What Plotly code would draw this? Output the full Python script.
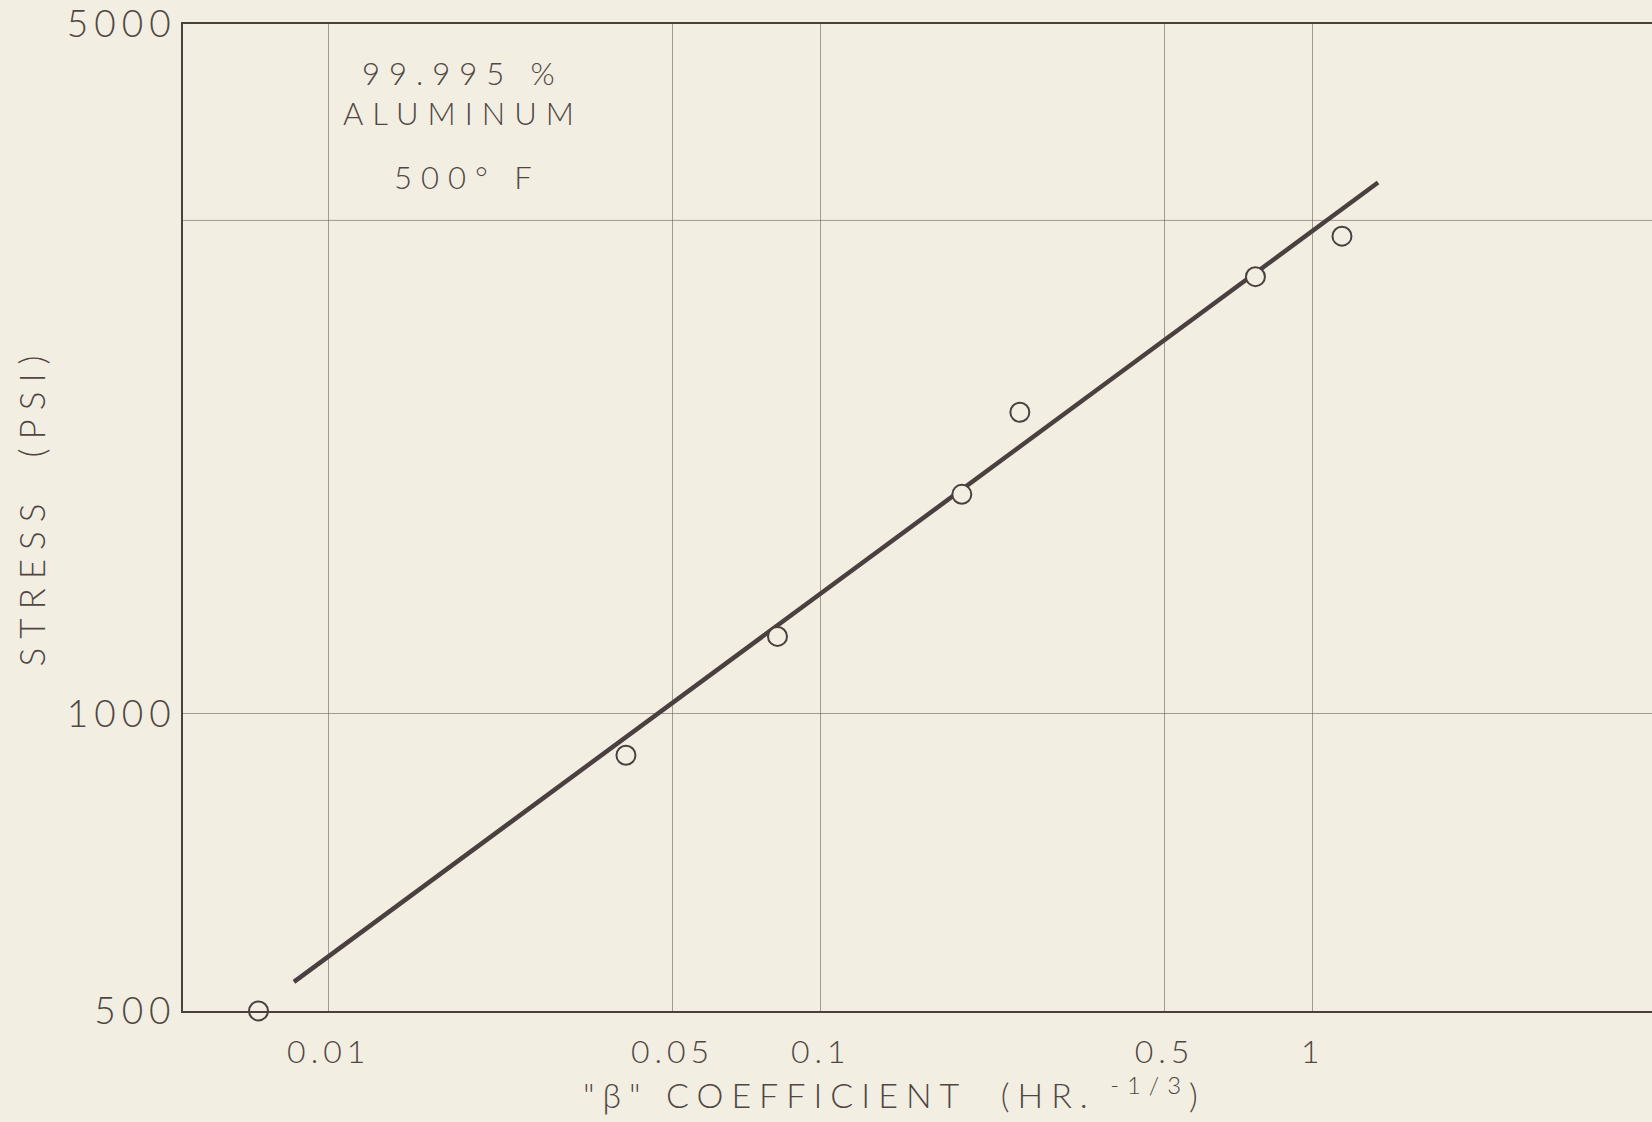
import plotly.graph_objects as go

# Measured creep points: "beta" coefficient vs. stress
beta_coef = [0.0072, 0.0402, 0.0817, 0.1936, 0.254, 0.765, 1.147]
stress_psi = [500, 908, 1198, 1669, 2021, 2773, 3048]

# End points of the fitted straight line (log-log)
fit_beta = [0.0085, 1.358]
fit_stress = [535, 3454]

# Axis ticks
x_tick_vals = [0.01, 0.05, 0.1, 0.5, 1]
x_tick_text = ["0.01", "0.05", "0.1", "0.5", "1"]
y_tick_vals = [500, 1000, 5000]
y_tick_text = ["500", "1000", "5000"]
y_extra_grid = [3162]

BG = "#F2EEE2"
INK = "#504744"
LINE = "#4a4040"
GRID = "rgba(95,85,80,0.55)"
FONT = "Lato"

fig = go.Figure()

# extra horizontal rule of the graph paper
for yv in y_extra_grid:
    fig.add_shape(type="line", xref="paper", x0=0, x1=1, yref="y", y0=yv, y1=yv,
                  line=dict(color=GRID, width=1), layer="below")

fig.add_trace(go.Scatter(
    x=fit_beta, y=fit_stress, mode="lines",
    line=dict(color=LINE, width=4.5),
    hoverinfo="skip", showlegend=False,
))

fig.add_trace(go.Scatter(
    x=beta_coef, y=stress_psi, mode="markers",
    marker=dict(symbol="circle", size=19, color=BG,
                line=dict(color=LINE, width=2)),
    showlegend=False, cliponaxis=False,
))

W, H = 1652, 1122
L, R, T, B = 183, 0, 24, 111

fig.update_layout(
    width=W, height=H,
    margin=dict(l=L, r=R, t=T, b=B, pad=0),
    paper_bgcolor=BG, plot_bgcolor=BG,
    font=dict(family=FONT, color=INK, weight=300),
    xaxis=dict(
        type="log", range=[-2.2961, 0.6897],
        tickvals=x_tick_vals, ticktext=x_tick_text,
        showgrid=True, gridcolor=GRID, gridwidth=1,
        showline=True, linecolor=LINE, linewidth=2, mirror=True,
        ticks="", zeroline=False,
        tickfont=dict(size=32, family=FONT, color=INK, weight=300),
        ticklabelstandoff=12, ticklabeloverflow="allow",
    ),
    yaxis=dict(
        type="log", range=[2.69890, 3.69899],
        tickvals=y_tick_vals, ticktext=y_tick_text,
        showgrid=True, gridcolor=GRID, gridwidth=1,
        showline=True, linecolor=LINE, linewidth=2, mirror=False,
        ticks="", zeroline=False,
        tickfont=dict(size=37, family=FONT, color=INK, weight=300),
        ticklabelstandoff=-3, ticklabeloverflow="allow",
    ),
)

plot_w = W - L - R
plot_h = H - T - B

def px_x(px):
    return (px - L) / plot_w

def px_y(py):
    return (H - B - py) / plot_h

notes = [
    ("99.995 %", 463, 73, 31),
    ("ALUMINUM", 463, 113, 31),
    ("500° F", 467, 177, 31),
]
for text, cx, cy, size in notes:
    fig.add_annotation(
        text=text, x=px_x(cx), y=px_y(cy), xref="paper", yref="paper",
        xanchor="center", yanchor="middle", showarrow=False,
        font=dict(size=size, family=FONT, color=INK, weight=300),
    )

# axis titles
fig.add_annotation(
    text='"β" COEFFICIENT  (HR.<sup> -1/3</sup>)',
    x=px_x(894), y=px_y(1093), xref="paper", yref="paper",
    xanchor="center", yanchor="middle", showarrow=False,
    font=dict(size=34, family=FONT, color=INK, weight=300),
)
fig.add_annotation(
    text="STRESS  (PSI)", textangle=-90,
    x=px_x(31), y=px_y(507), xref="paper", yref="paper",
    xanchor="center", yanchor="middle", showarrow=False,
    font=dict(size=35, family=FONT, color=INK, weight=300),
)

spacing_js = """
var gd = document.getElementById('{plot_id}');
function sp(sel, v) {
  gd.querySelectorAll(sel).forEach(function (t) { t.style.letterSpacing = v; });
}
sp('.xtick text', '5px');
sp('.ytick text', '6px');
sp('.annotation[data-index="0"] text', '9px');
sp('.annotation[data-index="1"] text', '9px');
sp('.annotation[data-index="2"] text', '9px');
sp('.annotation[data-index="3"] text', '8px');
sp('.annotation[data-index="4"] text', '9px');
"""

fig.write_html("out.html", post_script=spacing_js)
